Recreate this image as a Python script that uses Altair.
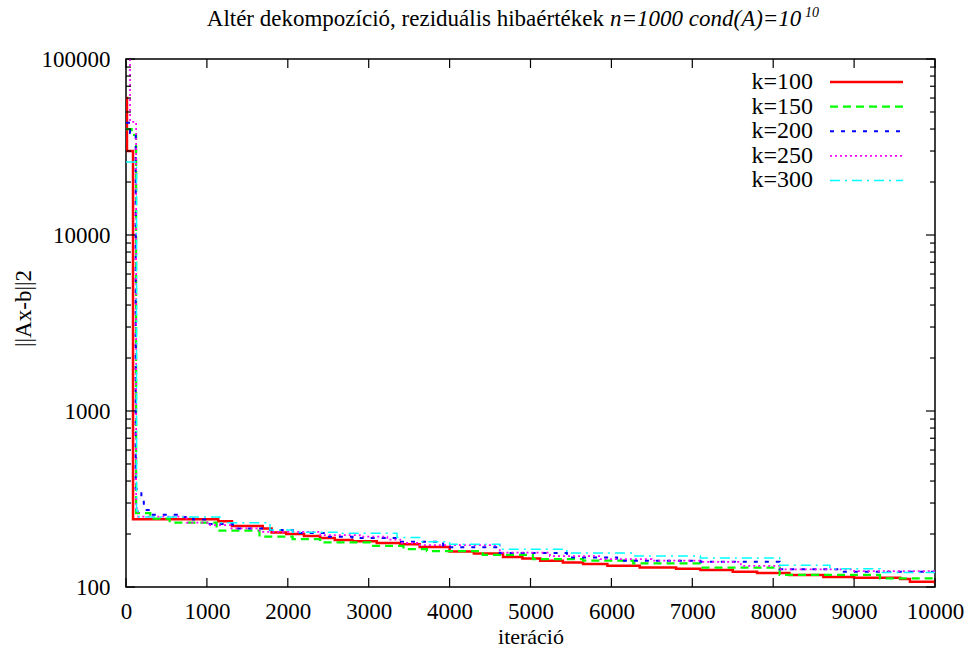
import altair as alt
import pandas as pd

SERIES = ["k=100", "k=150", "k=200", "k=250", "k=300"]
COLORS = ["#ff0000", "#00ff00", "#0000ff", "#ff00ff", "#00ffff"]
DASHES = [[1, 0], [8, 5], [4, 7], [2, 3], [10, 5, 2, 5]]
WIDTHS = [2.5, 1.5, 1.5, 1.5, 1.5]

K100_X = [0, 12, 87, 1140, 1310, 1690, 1800, 1980, 2200, 2400, 2580, 2800, 3100, 3390, 3630, 4000, 4300,
          4660, 4900, 5120, 5400, 5650, 5950, 6350, 6800, 7100, 7500, 7800, 8200, 8620, 9000, 9570, 9690, 10000]
K100_Y = [60000, 30000, 243, 236, 222, 215, 204, 200, 195, 190, 185, 182, 178, 175, 169, 159, 155,
          148, 145, 141, 138, 135, 132, 129, 127, 125, 122, 120, 117, 114, 113, 111, 107, 104]

K150_X = [0, 70, 125, 300, 540, 1120, 1650, 2060, 2400, 3020, 3430, 3720, 4410, 5030, 5650, 6270, 7100,
          8080, 9320, 10000]
K150_Y = [40000, 37000, 263, 245, 232, 209, 193, 187, 179, 171, 164, 160, 152, 144, 141, 136, 129,
          117, 112, 109]

K200_X = [0, 50, 120, 190, 220, 300, 670, 830, 1000, 1320, 1780, 2060, 2480, 2800, 3350, 3920, 4620,
          5450, 6070, 7100, 8080, 8830, 10000]
K200_Y = [43500, 38000, 360, 326, 274, 257, 250, 242, 228, 215, 211, 203, 193, 190, 181, 168, 156,
          147, 141, 139, 126, 122, 118]

K250_X = [0, 50, 125, 150, 750, 1040, 1290, 1650, 2400, 2890, 3230, 3390, 3630, 4620, 5240, 5860,
          6500, 7100, 7600, 8080, 9000, 10000]
K250_Y = [150000, 44000, 280, 251, 232, 225, 215, 206, 197, 193, 186, 178, 173, 157, 150, 144,
          141, 139, 132, 126, 123, 120]

K300_X = [0, 130, 160, 1160, 1780, 2060, 2610, 3350, 3630, 4000, 4620, 5450, 6270, 7100, 8080, 8700,
          9320, 10000]
K300_Y = [26000, 270, 250, 232, 211, 205, 202, 191, 181, 175, 164, 156, 150, 146, 133, 127,
          121, 120]

X_TICKS = [0, 1000, 2000, 3000, 4000, 5000, 6000, 7000, 8000, 9000, 10000]
Y_MAJOR = [100, 1000, 10000, 100000]
Y_MINOR = [200, 300, 400, 500, 600, 700, 800, 900,
           2000, 3000, 4000, 5000, 6000, 7000, 8000, 9000,
           20000, 30000, 40000, 50000, 60000, 70000, 80000, 90000]

TITLE_MAIN = "Altér dekompozíció, reziduális hibaértékek"
TITLE_ITALIC = "n=1000 cond(A)=10"
TITLE_SUP = "10"
X_TITLE = "iteráció"
Y_TITLE = "||Ax-b||2"

FONT = "Times New Roman"
W, H = 809, 528

rows = []
for name, xs, ys in zip(SERIES, [K100_X, K150_X, K200_X, K250_X, K300_X],
                        [K100_Y, K150_Y, K200_Y, K250_Y, K300_Y]):
    for i, (a, b) in enumerate(zip(xs, ys)):
        rows.append({"iter": a, "res": b, "series": name, "idx": i})
df = pd.DataFrame(rows)

xscale = alt.Scale(domain=[0, 10000], nice=False, zero=False)
yscale = alt.Scale(type="log", domain=[100, 100000], nice=False)
cscale = alt.Scale(domain=SERIES, range=COLORS)
dscale = alt.Scale(domain=SERIES, range=DASHES)
wscale = alt.Scale(domain=SERIES, range=WIDTHS)

lines = alt.Chart(df).mark_line(interpolate="step-after", clip=True).encode(
    x=alt.X("iter:Q", scale=xscale, title=X_TITLE,
            axis=alt.Axis(values=X_TICKS, format="d", labelFont=FONT, labelFontSize=23,
                          labelColor="#000", ticks=False, tickSize=0, domain=False, grid=False,
                          labelPadding=13, labelFlush=False, labelOverlap=False,
                          titleFont=FONT, titleFontSize=22, titleFontWeight="normal",
                          titleColor="#000", titleBaseline="middle", titleY=49)),
    y=alt.Y("res:Q", scale=yscale, title=Y_TITLE,
            axis=alt.Axis(values=Y_MAJOR, format="d", labelFont=FONT, labelFontSize=23,
                          labelColor="#000", ticks=False, tickSize=0, domain=False, grid=False,
                          labelPadding=16, labelFlush=False, labelOverlap=False,
                          titleFont=FONT, titleFontSize=23, titleFontWeight="normal",
                          titleColor="#000", titleAngle=-90, titleX=-103, titleY=249,
                          titleBaseline="middle", titleAlign="center")),
    color=alt.Color("series:N", scale=cscale, legend=None),
    strokeDash=alt.StrokeDash("series:N", scale=dscale, legend=None),
    strokeWidth=alt.StrokeWidth("series:N", scale=wscale, legend=None),
    order="idx:Q",
)

# gnuplot-style key: label on the left, line sample on the right
ldf = pd.DataFrame({"series": SERIES, "row": list(range(len(SERIES)))})
leg_base = alt.Chart(ldf).transform_calculate(py="23 + 24.6 * datum.row")
leg_text = leg_base.mark_text(font=FONT, fontSize=24, align="right", baseline="middle",
                              color="#000").encode(
    text="series:N", x=alt.value(687), y=alt.Y("py:Q", scale=None))
leg_line = leg_base.mark_rule().encode(
    x=alt.value(704), x2=alt.value(777), y=alt.Y("py:Q", scale=None),
    color=alt.Color("series:N", scale=cscale, legend=None),
    strokeDash=alt.StrokeDash("series:N", scale=dscale, legend=None),
    strokeWidth=alt.StrokeWidth("series:N", scale=wscale, legend=None),
)

xt = pd.DataFrame({"v": X_TICKS})
ymaj = pd.DataFrame({"v": Y_MAJOR})
ymin = pd.DataFrame({"v": Y_MINOR})
tick_color = "#000"

xt_bot = alt.Chart(xt).mark_rule(color=tick_color, strokeWidth=1.2).encode(
    x=alt.X("v:Q", scale=xscale), y=alt.value(H), y2=alt.value(H - 9))
xt_top = alt.Chart(xt).mark_rule(color=tick_color, strokeWidth=1.2).encode(
    x=alt.X("v:Q", scale=xscale), y=alt.value(0), y2=alt.value(9))
ymaj_l = alt.Chart(ymaj).mark_rule(color=tick_color, strokeWidth=1.2).encode(
    y=alt.Y("v:Q", scale=yscale), x=alt.value(0), x2=alt.value(9))
ymaj_r = alt.Chart(ymaj).mark_rule(color=tick_color, strokeWidth=1.2).encode(
    y=alt.Y("v:Q", scale=yscale), x=alt.value(W), x2=alt.value(W - 9))
ymin_l = alt.Chart(ymin).mark_rule(color=tick_color, strokeWidth=1.2).encode(
    y=alt.Y("v:Q", scale=yscale), x=alt.value(0), x2=alt.value(5))
ymin_r = alt.Chart(ymin).mark_rule(color=tick_color, strokeWidth=1.2).encode(
    y=alt.Y("v:Q", scale=yscale), x=alt.value(W), x2=alt.value(W - 5))

tdf = pd.DataFrame({"main": [TITLE_MAIN], "ital": [TITLE_ITALIC], "sup": [TITLE_SUP]})
t_main = alt.Chart(tdf).mark_text(font=FONT, fontSize=23, align="right", baseline="alphabetic",
                                  color="#000").encode(text="main:N", x=alt.value(478), y=alt.value(-33))
t_ital = alt.Chart(tdf).mark_text(font=FONT, fontSize=23, fontStyle="italic", align="left",
                                  baseline="alphabetic", color="#000").encode(
    text="ital:N", x=alt.value(484), y=alt.value(-33))
t_sup = alt.Chart(tdf).mark_text(font=FONT, fontSize=14, fontStyle="italic", align="left",
                                 baseline="alphabetic", color="#000").encode(
    text="sup:N", x=alt.value(679), y=alt.value(-42))

chart = alt.layer(lines, xt_bot, xt_top, ymaj_l, ymaj_r, ymin_l, ymin_r,
                  leg_text, leg_line, t_main, t_ital, t_sup).properties(
    width=W, height=H,
    autosize=alt.AutoSizeParams(type="none"),
    padding={"left": 126, "top": 59, "right": 40, "bottom": 68},
    background="white",
).configure_view(stroke="#000", strokeWidth=1.5)

chart.save("out.html", embed_options={"renderer": "svg", "actions": False})
